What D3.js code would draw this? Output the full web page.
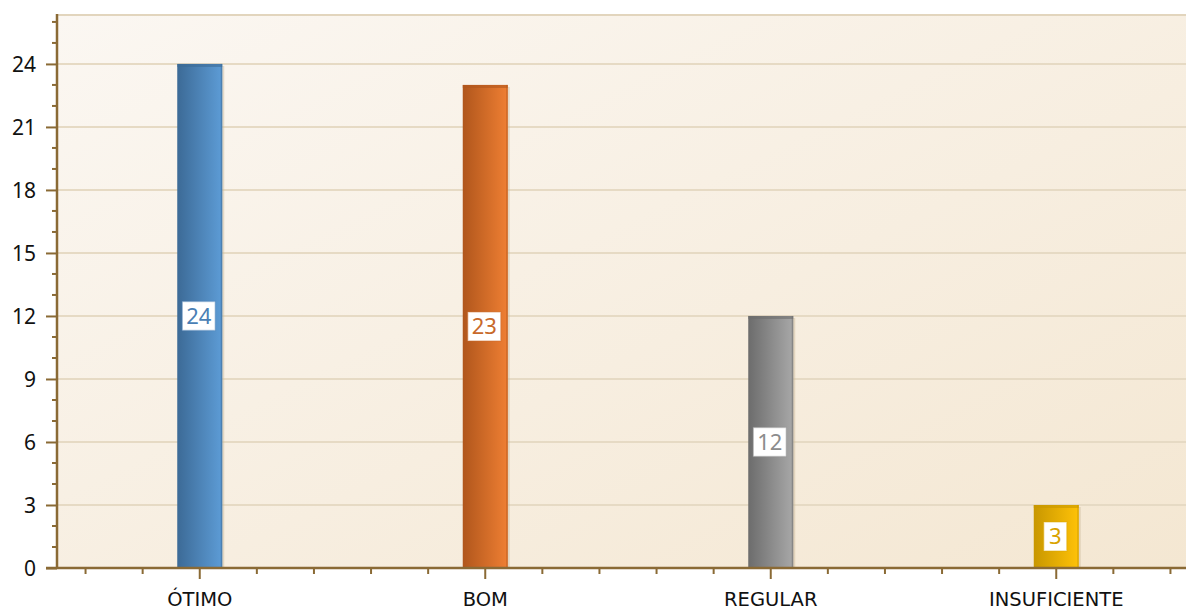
<!DOCTYPE html>
<html>
<head>
<meta charset="utf-8">
<script src="https://cdn.jsdelivr.net/npm/d3@7"></script>
<style>
  html, body { margin: 0; padding: 0; background: #ffffff; }
  svg { display: block; }
</style>
</head>
<body>
<svg id="chart" width="1186" height="610"></svg>
<script>
// Rating categories and their counts
const categories = ["ÓTIMO", "BOM", "REGULAR", "INSUFICIENTE"];
const counts = [24, 23, 12, 3];
const yTickValues = [0, 3, 6, 9, 12, 15, 18, 21, 24];
const yMax = 26.33;

// Bar colours: [dark edge, light edge]
const barColors = [
  ["#3c6a96", "#5d9cd6"],
  ["#b0561c", "#ef7f33"],
  ["#6c6c6c", "#a8a8a8"],
  ["#c89700", "#ffc208"]
];
const labelColors = ["#4a7fb5", "#c8692a", "#8c8c8c", "#d9a300"];

const svg = d3.select("#chart");
const W = 1186, H = 610;
const plot = { left: 57, top: 15, right: 1199, bottom: 568 };

const x = d3.scaleBand().domain(categories).range([plot.left, plot.right]).padding(0);
const y = d3.scaleLinear().domain([0, yMax]).range([plot.bottom, plot.top]);

const defs = svg.append("defs");

// plot background
const bg = defs.append("linearGradient").attr("id", "bgGrad")
  .attr("x1", "0%").attr("y1", "0%").attr("x2", "100%").attr("y2", "100%");
bg.append("stop").attr("offset", "0%").attr("stop-color", "#fbf7f2");
bg.append("stop").attr("offset", "100%").attr("stop-color", "#f4e7d2");

barColors.forEach((c, i) => {
  const g = defs.append("linearGradient").attr("id", "barGrad" + i)
    .attr("x1", "0%").attr("y1", "0%").attr("x2", "100%").attr("y2", "0%");
  g.append("stop").attr("offset", "0%").attr("stop-color", c[0]);
  g.append("stop").attr("offset", "100%").attr("stop-color", c[1]);
});

svg.append("rect")
  .attr("x", plot.left).attr("y", plot.top)
  .attr("width", W - plot.left).attr("height", plot.bottom - plot.top)
  .attr("fill", "url(#bgGrad)");

// top border of the plot area
svg.append("line")
  .attr("x1", plot.left).attr("x2", W)
  .attr("y1", plot.top).attr("y2", plot.top)
  .attr("stroke", "#e2d5bd").attr("stroke-width", 2);

// horizontal gridlines
svg.append("g").selectAll("line")
  .data(yTickValues.filter(v => v > 0))
  .join("line")
  .attr("x1", plot.left).attr("x2", W)
  .attr("y1", d => y(d)).attr("y2", d => y(d))
  .attr("stroke", "#e6dac4").attr("stroke-width", 2);

// bars
const bw = 45;
const bars = svg.append("g").selectAll("g")
  .data(categories.map((c, i) => ({ c, v: counts[i], i })))
  .join("g");

// soft shadow on the right
bars.append("rect")
  .attr("x", d => x(d.c) + x.bandwidth() / 2 - bw / 2 + 2)
  .attr("y", d => y(d.v) + 2)
  .attr("width", bw)
  .attr("height", d => y(0) - y(d.v) - 2)
  .attr("fill", "#c9b89a").attr("opacity", 0.45);

bars.append("rect")
  .attr("x", d => x(d.c) + x.bandwidth() / 2 - bw / 2)
  .attr("y", d => y(d.v))
  .attr("width", bw)
  .attr("height", d => y(0) - y(d.v))
  .attr("fill", d => `url(#barGrad${d.i})`);

// darker cap along the top
bars.append("rect")
  .attr("x", d => x(d.c) + x.bandwidth() / 2 - bw / 2)
  .attr("y", d => y(d.v))
  .attr("width", bw)
  .attr("height", 3)
  .attr("fill", d => barColors[d.i][0]).attr("opacity", 0.6);

// thin right edge
bars.append("rect")
  .attr("x", d => x(d.c) + x.bandwidth() / 2 + bw / 2 - 1.5)
  .attr("y", d => y(d.v))
  .attr("width", 1.5)
  .attr("height", d => y(0) - y(d.v))
  .attr("fill", d => barColors[d.i][0]).attr("opacity", 0.55);

// value labels at mid-height
const labelFont = "'Noto Sans', 'DejaVu Sans', sans-serif";
const categoryFont = "'DejaVu Sans', Verdana, sans-serif";
bars.each(function (d) {
  const g = d3.select(this);
  const cx = x(d.c) + x.bandwidth() / 2 - 1;
  const cy = y(d.v / 2);
  const txt = String(d.v);
  const w = txt.length === 1 ? 23 : 33;
  const h = 29;
  g.append("rect")
    .attr("x", cx - w / 2).attr("y", cy - h / 2)
    .attr("width", w).attr("height", h)
    .attr("fill", "#ffffff")
    .attr("stroke", labelColors[d.i]).attr("stroke-opacity", 0.35).attr("stroke-width", 1.5);
  g.append("text")
    .attr("x", cx).attr("y", cy + 8)
    .attr("text-anchor", "middle")
    .attr("font-family", labelFont)
    .attr("font-size", 22)
    .attr("fill", labelColors[d.i])
    .text(txt);
});

const axisColor = "#8a6a35";

// y axis: major ticks with labels
const yAxis = d3.axisLeft(y).tickValues(yTickValues).tickSize(11).tickPadding(10).tickFormat(d3.format("d"));
const gy = svg.append("g").attr("transform", `translate(${plot.left},0)`).call(yAxis);
gy.select(".domain").remove();
gy.selectAll(".tick line").attr("stroke", axisColor).attr("stroke-width", 2);
gy.selectAll(".tick text")
  .attr("font-family", labelFont).attr("font-size", 21).attr("fill", "#111111")
  .attr("dy", "0.36em");

// y minor ticks at every unit
const minorY = d3.range(1, Math.floor(yMax) + 1).filter(v => v % 3 !== 0);
svg.append("g").selectAll("line").data(minorY).join("line")
  .attr("x1", plot.left - 5).attr("x2", plot.left)
  .attr("y1", d => y(d)).attr("y2", d => y(d))
  .attr("stroke", axisColor).attr("stroke-width", 2);

// y axis line
svg.append("line")
  .attr("x1", plot.left).attr("x2", plot.left)
  .attr("y1", plot.top - 1).attr("y2", plot.bottom + 1)
  .attr("stroke", axisColor).attr("stroke-width", 2.5);

// x axis
const xAxis = d3.axisBottom(x).tickSize(11).tickPadding(13);
const gx = svg.append("g").attr("transform", `translate(0,${plot.bottom})`).call(xAxis);
gx.select(".domain").remove();
gx.selectAll(".tick line").attr("stroke", axisColor).attr("stroke-width", 2);
gx.selectAll(".tick text")
  .attr("font-family", categoryFont).attr("font-size", 19.5).attr("fill", "#111111");

// x minor ticks: five per category, skipping the centre
const minorX = [];
categories.forEach(c => {
  for (let k = 0; k < 5; k++) {
    if (k !== 2) minorX.push(x(c) + (k + 0.5) * x.bandwidth() / 5);
  }
});
svg.append("g").selectAll("line").data(minorX).join("line")
  .attr("x1", d => d).attr("x2", d => d)
  .attr("y1", plot.bottom).attr("y2", plot.bottom + 6)
  .attr("stroke", axisColor).attr("stroke-width", 2);

svg.append("line")
  .attr("x1", plot.left - 11).attr("x2", W)
  .attr("y1", plot.bottom).attr("y2", plot.bottom)
  .attr("stroke", axisColor).attr("stroke-width", 2.5);
</script>
</body>
</html>
